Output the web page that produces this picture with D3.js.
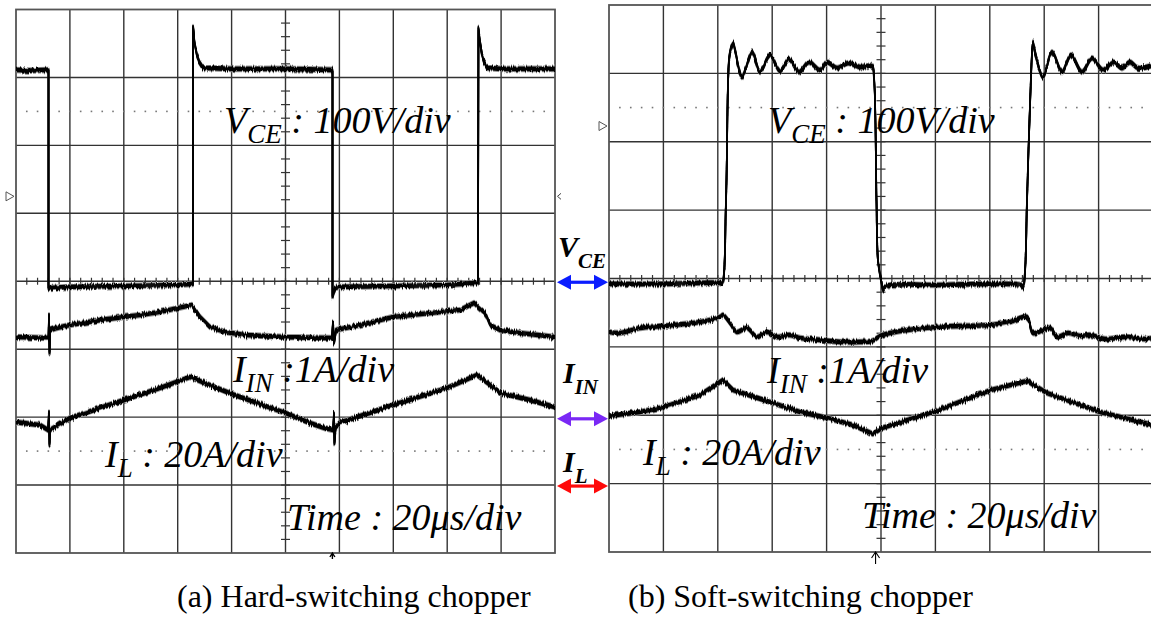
<!DOCTYPE html>
<html>
<head>
<meta charset="utf-8">
<script src="https://cdnjs.cloudflare.com/ajax/libs/d3/7.8.5/d3.min.js"></script>
<style>
  html, body { margin: 0; padding: 0; background: #fff; }
  svg { display: block; }
  text { font-family: "Liberation Serif", "Times New Roman", serif; white-space: pre; }
</style>
</head>
<body>
<svg id="chart" width="1151" height="620"></svg>
<script>
// Scope readings in screen divisions: [time div, value div], centre of screen = 0
const hardVce = [
  [0, 3.11], [0.26, 3.10], [0.575, 3.11], [0.603, 3.11], [0.603, -0.10], [0.612, -0.10],
  [1.0, -0.084], [2.0, -0.07], [3.0, -0.055], [3.265, -0.04], [3.284, -0.04],
  [3.284, 3.74], [3.312, 3.52], [3.358, 3.33], [3.395, 3.23], [3.469, 3.14],
  [4.0, 3.126], [5.0, 3.126], [5.844, 3.111], [5.872, 3.111], [5.872, -0.23],
  [5.918, -0.10], [6.0, -0.084], [7.0, -0.07], [8.0, -0.055], [8.534, -0.025], [8.571, -0.025],
  [8.580, 3.715], [8.609, 3.52], [8.646, 3.33], [8.683, 3.23], [8.738, 3.14], [9.0, 3.126], [10, 3.126]
];
const hardIin = [
  [0, -0.82], [0.575, -0.836], [0.603, -0.836], [0.612, -0.50], [0.622, -1.06], [0.631, -0.72],
  [0.742, -0.69], [1.0, -0.644], [1.558, -0.571], [2.0, -0.526], [2.301, -0.497], [2.672, -0.453],
  [3.006, -0.394], [3.265, -0.35], [3.414, -0.526], [3.599, -0.674], [3.878, -0.747], [4.249, -0.791],
  [5.0, -0.821], [5.863, -0.836], [5.881, -0.60], [5.90, -0.91], [5.937, -0.718], [6.382, -0.644],
  [6.994, -0.526], [7.681, -0.467], [8.237, -0.423], [8.497, -0.32], [8.701, -0.467], [8.794, -0.644],
  [8.98, -0.718], [9.351, -0.762], [10, -0.821]
];
const hardIl = [
  [0, -2.073], [0.445, -2.117], [0.594, -2.19], [0.612, -1.93], [0.622, -2.41], [0.631, -2.19],
  [0.816, -2.102], [1.0, -2.014], [2.0, -1.749], [2.672, -1.572], [3.228, -1.41], [4.007, -1.661],
  [5.0, -1.94], [5.455, -2.088], [5.733, -2.162], [5.881, -2.19], [5.90, -1.94], [5.909, -2.38],
  [5.928, -2.162], [5.993, -2.088], [6.994, -1.823], [7.996, -1.572], [8.553, -1.381], [8.998, -1.646],
  [9.536, -1.749], [10, -1.852]
];
const softVce = [
  [0, -0.08], [1.011, -0.08], [2.04, -0.066], [2.077, -0.08], [2.151, 1.148], [2.206, 3.194],
  [2.243, 3.37], [2.279, 3.443], [2.316, 3.341], [2.445, 2.946], [2.629, 3.311], [2.776, 3.019],
  [2.96, 3.268], [3.143, 3.034], [3.309, 3.209], [3.493, 3.019], [3.676, 3.165], [3.879, 3.048],
  [4.007, 3.165], [4.191, 3.077], [4.393, 3.151], [4.614, 3.092], [4.835, 3.107], [4.871, 2.946],
  [4.917, 1.148], [4.945, 0.27], [5.018, -0.095], [5.037, -0.168], [5.092, -0.11], [6.011, -0.095],
  [7.022, -0.08], [7.574, -0.095], [7.61, -0.124], [7.647, 0.095], [7.684, 1.148], [7.757, 2.946],
  [7.794, 3.458], [7.831, 3.311], [7.978, 2.946], [8.143, 3.311], [8.327, 3.019], [8.493, 3.268],
  [8.695, 3.019], [8.879, 3.224], [9.081, 3.048], [9.265, 3.165], [9.43, 3.077], [9.577, 3.165],
  [9.724, 3.077], [10, 3.121]
];
const softIin = [
  [0, -0.782], [0.202, -0.797], [0.57, -0.724], [1.011, -0.694], [1.673, -0.636], [2.04, -0.563],
  [2.096, -0.534], [2.224, -0.651], [2.353, -0.782], [2.537, -0.724], [2.721, -0.855], [2.904, -0.782],
  [3.088, -0.855], [3.327, -0.826], [3.511, -0.87], [3.879, -0.899], [4.246, -0.928], [4.614, -0.928],
  [4.835, -0.914], [4.982, -0.841], [5.165, -0.797], [6.011, -0.709], [7.022, -0.68], [7.371, -0.636],
  [7.684, -0.563], [7.794, -0.797], [8.107, -0.724], [8.235, -0.855], [8.438, -0.797], [8.658, -0.841],
  [8.842, -0.826], [9.118, -0.885], [9.485, -0.855], [9.853, -0.885], [10, -0.87]
];
const softIl = [
  [0, -2.01], [0.57, -1.952], [1.011, -1.879], [1.673, -1.703], [2.096, -1.484], [2.279, -1.63],
  [3.015, -1.82], [3.511, -1.952], [4.007, -2.039], [4.485, -2.142], [4.853, -2.273], [5.018, -2.186],
  [6.011, -1.937], [7.022, -1.63], [7.684, -1.499], [8.051, -1.674], [9.026, -1.952], [10, -2.142]
];

const xGrid = [1, 2, 3, 4, 5, 6, 7, 8, 9];
const yGrid = [-3, -2, -1, 0, 1, 2, 3];
const dottedLevels = [2.5, -2.5];
const captions = ['(a) Hard-switching chopper', '(b) Soft-switching chopper'];

const svg = d3.select('#chart');
svg.append('rect').attr('width', 1151).attr('height', 620).attr('fill', '#fff');

// trace noise look: vertical-only jitter of the drawn stroke
const defs = svg.append('defs');
const flt = defs.append('filter').attr('id', 'scopeNoise')
  .attr('filterUnits', 'userSpaceOnUse')
  .attr('x', 0).attr('y', 0).attr('width', 1151).attr('height', 620)
  .attr('color-interpolation-filters', 'sRGB');
flt.append('feTurbulence').attr('type', 'fractalNoise')
  .attr('baseFrequency', '0.9 0.06').attr('numOctaves', 2).attr('seed', 7).attr('result', 'n');
flt.append('feColorMatrix').attr('in', 'n').attr('type', 'matrix')
  .attr('values', '0 0 0 0 0.5  0 1 0 0 0  0 0 1 0 0  0 0 0 0 1').attr('result', 'n2');
flt.append('feDisplacementMap').attr('in', 'SourceGraphic').attr('in2', 'n2')
  .attr('scale', 5).attr('xChannelSelector', 'R').attr('yChannelSelector', 'G');

const panels = [
  { x0: 16, x1: 555, y0: 9.5, y1: 553, traces: [hardVce, hardIin, hardIl],
    curves: [d3.curveLinear, d3.curveLinear, d3.curveLinear], refMark: 1.25, capX: 177 },
  { x0: 609, x1: 1153, y0: 5, y1: 552, traces: [softVce, softIin, softIl],
    curves: [d3.curveCatmullRom.alpha(0.5), d3.curveCatmullRom.alpha(0.5), d3.curveLinear],
    refMark: 2.23, capX: 628 }
];

panels.forEach((p, pi) => {
  const x = d3.scaleLinear().domain([0, 10]).range([p.x0, p.x1]);
  const y = d3.scaleLinear().domain([-4, 4]).range([p.y1, p.y0]);
  p.x = x; p.y = y;
  const g = svg.append('g');

  // grid
  g.selectAll('.vg').data(xGrid).enter().append('line')
    .attr('x1', d => x(d)).attr('x2', d => x(d))
    .attr('y1', y(-4)).attr('y2', y(4))
    .attr('stroke', '#333').attr('stroke-width', 1.4);
  g.selectAll('.hg').data(yGrid).enter().append('line')
    .attr('x1', x(0)).attr('x2', x(10))
    .attr('y1', d => y(d)).attr('y2', d => y(d))
    .attr('stroke', '#333').attr('stroke-width', 1.4);

  // minor ticks on centre axes
  const tx = d3.range(1, 50).map(i => i * 0.2);
  const ty = d3.range(1, 40).map(i => -4 + i * 0.2);
  g.selectAll('.tx').data(tx).enter().append('line')
    .attr('x1', d => x(d)).attr('x2', d => x(d))
    .attr('y1', y(0) - 3.5).attr('y2', y(0) + 3.5)
    .attr('stroke', '#333').attr('stroke-width', 1.2);
  g.selectAll('.ty').data(ty).enter().append('line')
    .attr('x1', x(5) - 4.5).attr('x2', x(5) + 4.5)
    .attr('y1', d => y(d)).attr('y2', d => y(d))
    .attr('stroke', '#333').attr('stroke-width', 1.2);

  // dotted reference lines
  dottedLevels.forEach(lv => {
    g.selectAll(null).data(d3.range(1, 50).map(i => i * 0.2)).enter().append('rect')
      .attr('x', d => x(d) - 0.8).attr('y', y(lv) - 0.8)
      .attr('width', 1.6).attr('height', 1.6).attr('fill', '#777');
  });

  // border
  g.append('rect').attr('x', p.x0).attr('y', p.y0)
    .attr('width', p.x1 - p.x0).attr('height', p.y1 - p.y0)
    .attr('fill', 'none').attr('stroke', '#555').attr('stroke-width', 1.8);

  // traces: stacked copies plus jitter give the noisy band of a scope trace
  p.traces.forEach((tr, ti) => {
    const line = d3.line().x(d => x(d[0])).y(d => y(d[1])).curve(p.curves[ti]);
    const tg = g.append('g').attr('filter', 'url(#scopeNoise)');
    [[-2.7, '#999', 1.2], [2.7, '#999', 1.2],
     [-1.5, '#000', 1.7], [-0.5, '#000', 1.7], [0.5, '#000', 1.7], [1.5, '#000', 1.7]]
      .forEach(([dy, c, w]) => {
        tg.append('path').datum(tr).attr('d', line)
          .attr('transform', `translate(0,${dy})`)
          .attr('fill', 'none').attr('stroke', c).attr('stroke-width', w)
          .attr('stroke-linejoin', 'round');
      });
  });

  // channel reference marker
  const my = y(p.refMark);
  g.append('path')
    .attr('d', `M${p.x0 - 10},${my - 4.5}L${p.x0 - 2},${my}L${p.x0 - 10},${my + 4.5}Z`)
    .attr('fill', '#fff').attr('stroke', '#555').attr('stroke-width', 1);

  // caption
  svg.append('text').attr('x', p.capX).attr('y', 607)
    .attr('font-size', 32).attr('fill', '#000').text(captions[pi]);
});

// small extra scope markers
const L = panels[0], R = panels[1];
svg.append('path')
  .attr('d', `M${L.x1 + 6},${L.y(1.25) - 3}L${L.x1 + 2.5},${L.y(1.25)}L${L.x1 + 6},${L.y(1.25) + 3}`)
  .attr('fill', 'none').attr('stroke', '#444').attr('stroke-width', 1);
svg.append('path')
  .attr('d', `M${L.x(5.87)},${L.y1 + 6}L${L.x(5.87)},${L.y1}M${L.x(5.87) - 2.5},${L.y1 + 4}L${L.x(5.87)},${L.y1}L${L.x(5.87) + 2.5},${L.y1 + 4}`)
  .attr('fill', 'none').attr('stroke', '#000').attr('stroke-width', 1.4);
svg.append('path')
  .attr('d', `M${R.x(4.9)},${R.y1 + 12}L${R.x(4.9)},${R.y1}M${R.x(4.9) - 4},${R.y1 + 6}L${R.x(4.9)},${R.y1}L${R.x(4.9) + 4},${R.y1 + 6}`)
  .attr('fill', 'none').attr('stroke', '#000').attr('stroke-width', 1.1);

// scale labels
function label(x, y, main, sub, rest, opts) {
  const o = Object.assign({ size: 38, subSize: 27, subDy: 10, weight: 'normal', fill: '#000' }, opts || {});
  const t = svg.append('text').attr('x', x).attr('y', y)
    .attr('font-size', o.size).attr('font-style', 'italic')
    .attr('font-weight', o.weight).attr('fill', o.fill);
  t.append('tspan').text(main);
  t.append('tspan').attr('font-size', o.subSize).attr('dy', o.subDy).text(sub);
  if (rest) t.append('tspan').attr('dy', -o.subDy).text(rest);
  return t;
}

label(224, 133, 'V', 'CE', ' : 100V/div');
label(233, 382, 'I', 'IN', ' :1A/div');
label(105, 467, 'I', 'L', ' : 20A/div');
svg.append('text').attr('x', 287).attr('y', 530).attr('font-size', 38)
  .attr('font-style', 'italic').text('Time : 20\u03bcs/div');

label(768, 133, 'V', 'CE', ' : 100V/div');
label(767, 383, 'I', 'IN', ' :1A/div');
label(643, 465, 'I', 'L', ' : 20A/div');
svg.append('text').attr('x', 862).attr('y', 528).attr('font-size', 38)
  .attr('font-style', 'italic').text('Time : 20\u03bcs/div');

// channel arrows between the two screens
const arrows = [
  { yv: 0, color: '#0a1cff', main: 'V', sub: 'CE', ty: 257 },
  { yv: -2.01, color: '#7a28f5', main: 'I', sub: 'IN', ty: 383 },
  { yv: -3.0, color: '#ff0a0a', main: 'I', sub: 'L', ty: 472 }
];
arrows.forEach(a => {
  const yy = L.y(a.yv) + 1;
  const xa = L.x1 + 2, xb = R.x0 - 1;
  svg.append('line').attr('x1', xa + 10).attr('x2', xb - 10).attr('y1', yy).attr('y2', yy)
    .attr('stroke', a.color).attr('stroke-width', 3.2);
  svg.append('path').attr('d', `M${xa},${yy}L${xa + 14},${yy - 7.5}L${xa + 14},${yy + 7.5}Z`).attr('fill', a.color);
  svg.append('path').attr('d', `M${xb},${yy}L${xb - 14},${yy - 7.5}L${xb - 14},${yy + 7.5}Z`).attr('fill', a.color);
  label(a.main === 'V' ? 558 : 563, a.ty, a.main, a.sub, null,
    { size: 30, subSize: 21, subDy: 11, weight: 'bold' });
});
</script>
</body>
</html>
